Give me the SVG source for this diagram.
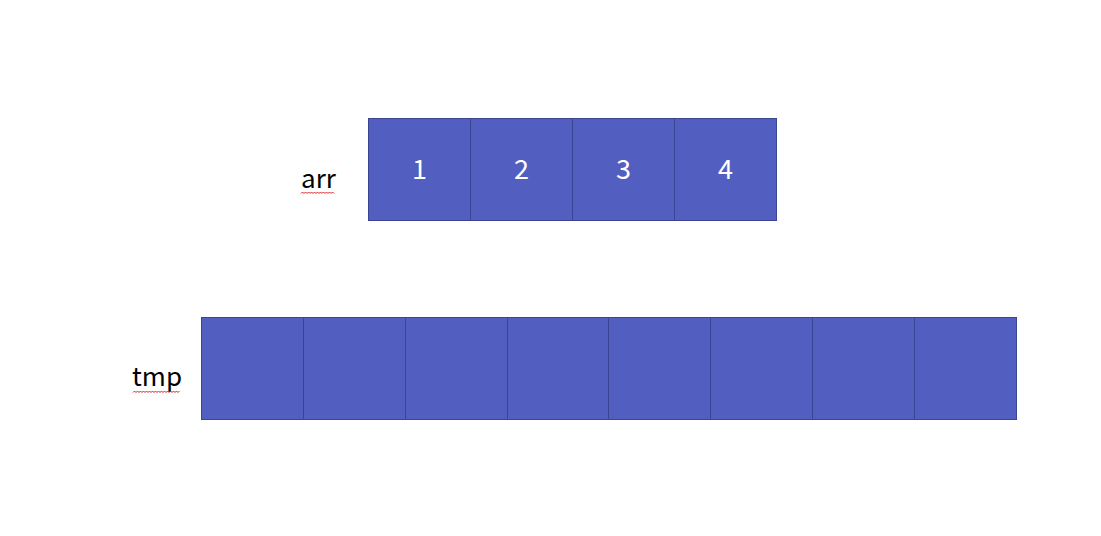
<svg xmlns="http://www.w3.org/2000/svg" width="1101" height="536" viewBox="0 0 1101 536">
<style>
.cell{fill:#535EC1;stroke:#3B4592;stroke-width:1}
.num{font-family:"Noto Sans CJK SC","Noto Sans",sans-serif;font-size:27px;fill:#ffffff;text-anchor:middle;dominant-baseline:central}
.lbl{font-family:"Noto Sans CJK SC","Noto Sans",sans-serif;font-size:26px;fill:#000000}
.sq{fill:none;stroke:#e02020;stroke-width:1}
</style>
<rect width="1101" height="536" fill="#ffffff"/>
<g id="arr-label">
<text class="lbl" x="301" y="188">arr</text>
<path class="sq" d="M301 193.5 l1.5 -1.5 l1.5 1.5 l1.5 -1.5 l1.5 1.5 l1.5 -1.5 l1.5 1.5 l1.5 -1.5 l1.5 1.5 l1.5 -1.5 l1.5 1.5 l1.5 -1.5 l1.5 1.5 l1.5 -1.5 l1.5 1.5 l1.5 -1.5 l1.5 1.5 l1.5 -1.5 l1.5 1.5 l1.5 -1.5 l1.5 1.5 l1.5 -1.5 l1.5 1.5"/>
</g>
<g id="arr">
<g id="arr0"><rect class="cell" x="368.5" y="118.5" width="102" height="102"/><text class="num" x="419.5" y="167.5">1</text></g>
<g id="arr1"><rect class="cell" x="470.5" y="118.5" width="102" height="102"/><text class="num" x="521.5" y="167.5">2</text></g>
<g id="arr2"><rect class="cell" x="572.5" y="118.5" width="102" height="102"/><text class="num" x="623.5" y="167.5">3</text></g>
<g id="arr3"><rect class="cell" x="674.5" y="118.5" width="102" height="102"/><text class="num" x="725.5" y="167.5">4</text></g>
</g>
<g id="tmp-label">
<text class="lbl" x="132" y="386">tmp</text>
<path class="sq" d="M133 392.5 l1.5 -1.5 l1.5 1.5 l1.5 -1.5 l1.5 1.5 l1.5 -1.5 l1.5 1.5 l1.5 -1.5 l1.5 1.5 l1.5 -1.5 l1.5 1.5 l1.5 -1.5 l1.5 1.5 l1.5 -1.5 l1.5 1.5 l1.5 -1.5 l1.5 1.5 l1.5 -1.5 l1.5 1.5 l1.5 -1.5 l1.5 1.5 l1.5 -1.5 l1.5 1.5 l1.5 -1.5 l1.5 1.5 l1.5 -1.5 l1.5 1.5 l1.5 -1.5 l1.5 1.5 l1.5 -1.5 l1.5 1.5 l1.5 -1.5"/>
</g>
<g id="tmp">
<g id="tmp0"><rect class="cell" x="201.5" y="317.5" width="102" height="102"/></g>
<g id="tmp1"><rect class="cell" x="303.5" y="317.5" width="102" height="102"/></g>
<g id="tmp2"><rect class="cell" x="405.5" y="317.5" width="102" height="102"/></g>
<g id="tmp3"><rect class="cell" x="507.5" y="317.5" width="101" height="102"/></g>
<g id="tmp4"><rect class="cell" x="608.5" y="317.5" width="102" height="102"/></g>
<g id="tmp5"><rect class="cell" x="710.5" y="317.5" width="102" height="102"/></g>
<g id="tmp6"><rect class="cell" x="812.5" y="317.5" width="102" height="102"/></g>
<g id="tmp7"><rect class="cell" x="914.5" y="317.5" width="102" height="102"/></g>
</g>
<g id="connectors"></g>
</svg>
